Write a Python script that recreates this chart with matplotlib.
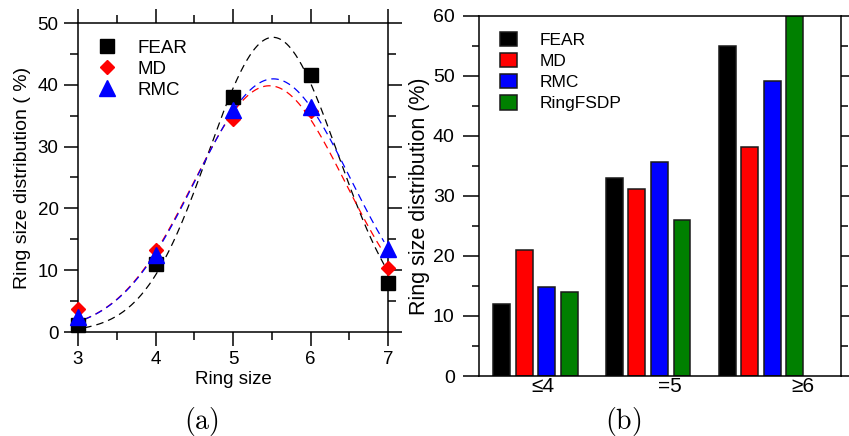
import numpy as np
import matplotlib
matplotlib.use('Agg')
import matplotlib.pyplot as plt
from matplotlib.ticker import MultipleLocator

plt.rcParams['font.family'] = ['Liberation Sans', 'DejaVu Sans']
plt.rcParams['mathtext.fontset'] = 'cm'

# (a) ring size distribution, points
ring = [3, 4, 5, 6, 7]
fear = [1.2, 11.0, 38.1, 41.6, 8.0]
md = [3.8, 13.3, 34.5, 35.7, 10.4]
rmc = [2.5, 12.4, 35.9, 36.4, 13.5]

# (b) grouped bars
groups = ['≤4', '=5', '≥6']
bar_fear = [12.0, 33.0, 55.0]
bar_md = [21.0, 31.1, 38.1]
bar_rmc = [14.9, 35.6, 49.1]
bar_fsdp = [14.0, 26.0, 61.0]


def gauss_fit(x, y):
    # least squares gaussian, grid over centre/width, amplitude solved directly
    x = np.asarray(x, float)
    y = np.asarray(y, float)
    cs = np.linspace(4.5, 6.5, 401)
    ss = np.linspace(0.3, 2.0, 341)
    C, S = np.meshgrid(cs, ss, indexing='ij')
    g = np.exp(-(x[None, None, :] - C[..., None])**2 / (2 * S[..., None]**2))
    A = (g * y).sum(-1) / (g * g).sum(-1)
    err = ((A[..., None] * g - y)**2).sum(-1)
    i, j = np.unravel_index(np.argmin(err), err.shape)
    return A[i, j], cs[i], ss[j]


def gauss(x, a, c, s):
    return a * np.exp(-(x - c)**2 / (2 * s**2))


fig = plt.figure(figsize=(8.49, 4.36), dpi=100)

# ---- panel (a)
ax1 = fig.add_axes([78/849, 104/436, 310/849, 309/436])
xs = np.linspace(3.08, 6.95, 300)
for y, col in [(fear, 'black'), (md, 'red'), (rmc, 'blue')]:
    p = gauss_fit(ring, y)
    ax1.plot(xs, gauss(xs, *p), color=col, lw=0.9, dashes=(6, 4), zorder=2)

ax1.plot(ring, fear, 's', color='black', ms=10.5, label='FEAR', zorder=3, clip_on=False)
ax1.plot(ring, md, 'D', color='red', ms=7.5, label='MD', zorder=3, clip_on=False)
ax1.plot(ring, rmc, '^', color='blue', ms=11, label='RMC', zorder=3, clip_on=False)

ax1.set_xlim(3, 7)
ax1.set_ylim(0, 50)
ax1.xaxis.set_major_locator(MultipleLocator(1))
ax1.xaxis.set_minor_locator(MultipleLocator(0.5))
ax1.yaxis.set_major_locator(MultipleLocator(10))
ax1.yaxis.set_minor_locator(MultipleLocator(5))
ax1.tick_params(which='both', direction='out', top=True, right=True, width=1.1, labelsize=13.5)
ax1.tick_params(which='major', length=10, pad=4)
ax1.tick_params(which='minor', length=5.5)
for sp in ax1.spines.values():
    sp.set_linewidth(1.1)
ax1.set_xlabel('Ring size', fontsize=13.5, labelpad=2)
ax1.set_ylabel('Ring size distribution ( %)', fontsize=14, labelpad=5)
ax1.legend(loc='upper left', bbox_to_anchor=(0.04, 0.97), frameon=False, fontsize=13.5,
           handlelength=1.0, handletextpad=1.1, labelspacing=0.2, borderaxespad=0)

# ---- panel (b)
ax2 = fig.add_axes([479/849, 60/436, 362/849, 360/436])
xg = np.arange(len(groups))
w = 0.15
series = [(bar_fear, 'black', 'FEAR'), (bar_md, 'red', 'MD'),
          (bar_rmc, 'blue', 'RMC'), (bar_fsdp, 'green', 'RingFSDP')]
for k, (vals, col, lab) in enumerate(series):
    ax2.bar(xg + (k - 1.5) * 0.2, vals, w, color=col, edgecolor='#1a1a1a',
            linewidth=1.1, label=lab, zorder=2)

ax2.set_xlim(-0.5, 2.71)
ax2.set_ylim(0, 60)
ax2.set_xticks(xg + np.array([0.07, 0.19, 0.37]))
ax2.set_xticklabels(groups)
ax2.yaxis.set_major_locator(MultipleLocator(10))
ax2.yaxis.set_minor_locator(MultipleLocator(5))
ax2.tick_params(axis='x', length=0, pad=1, labelsize=15)
ax2.tick_params(axis='y', which='both', direction='out', right=True, width=1.1, labelsize=14)
ax2.tick_params(axis='y', which='major', length=11.5, pad=6)
ax2.tick_params(axis='y', which='minor', length=5)
for sp in ax2.spines.values():
    sp.set_linewidth(1.1)
ax2.set_ylabel('Ring size distribution (%)', fontsize=15.5, labelpad=2)
ax2.legend(loc='upper left', bbox_to_anchor=(0.04, 0.975), frameon=False, fontsize=12.5,
           handlelength=0.95, handleheight=0.9, handletextpad=1.3, labelspacing=0.28,
           borderaxespad=0)

fig.text(201/849, 1 - 421/436, r'$\mathrm{(a)}$', fontsize=20, ha='center', va='center')
fig.text(623/849, 1 - 421/436, r'$\mathrm{(b)}$', fontsize=20, ha='center', va='center')

fig.savefig('out.png', dpi=100)
